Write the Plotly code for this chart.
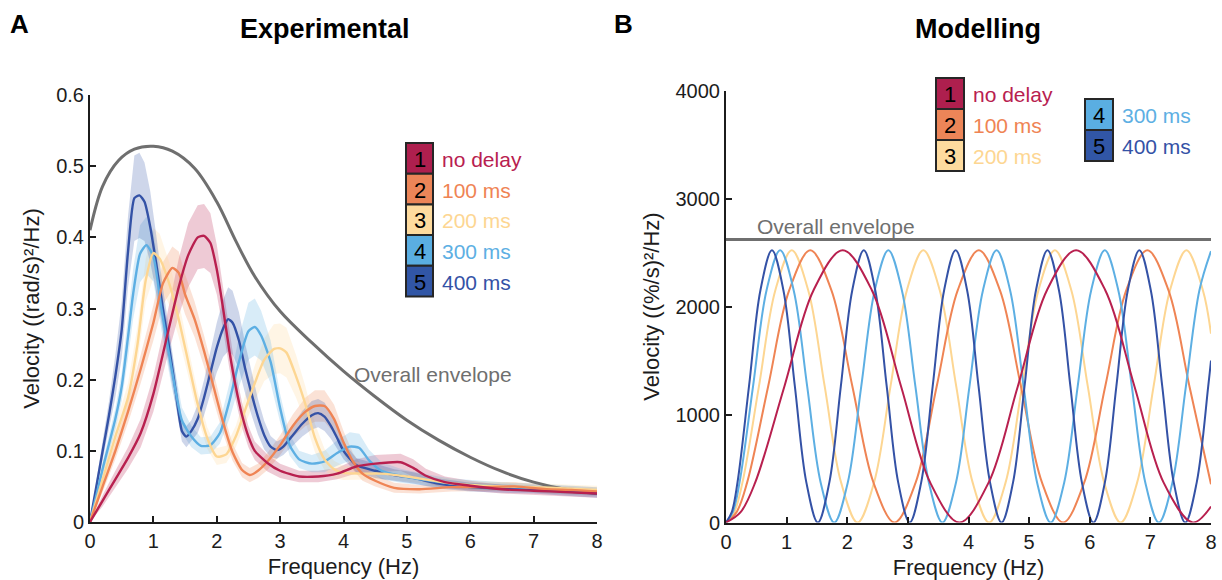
import plotly.graph_objects as go

W, H = 1222, 580

labels = ["no delay", "100 ms", "200 ms", "300 ms", "400 ms"]
line_colors = ["#B8204F", "#EF8454", "#FDD692", "#5DAFE3", "#3452A6"]
box_colors = ["#AE1F4E", "#EC8558", "#FEDB9E", "#5AAEE2", "#3156A6"]
band_rgb = ["184,32,79", "239,132,84", "253,214,146", "93,175,227", "52,82,166"]

# ---------------- Experimental power spectra ((rad/s)^2/Hz) ----------------
exp_f_nodelay = [0, 0.2, 0.4, 0.6, 0.8, 1.0, 1.2, 1.4, 1.55, 1.7, 1.8, 1.9, 2.0, 2.1, 2.2,
                 2.3, 2.4, 2.5, 2.6, 2.8, 3.0, 3.3, 3.6, 3.9, 4.2, 4.5, 4.9, 5.1, 5.3, 5.6,
                 6.0, 6.5, 7.0, 7.5, 8.0]
exp_v_nodelay = [0, 0.03, 0.06, 0.09, 0.125, 0.18, 0.255, 0.33, 0.375, 0.400, 0.402, 0.392,
                 0.355, 0.30, 0.24, 0.19, 0.15, 0.12, 0.10, 0.083, 0.072, 0.064, 0.064, 0.068,
                 0.078, 0.082, 0.084, 0.076, 0.065, 0.056, 0.051, 0.046, 0.044, 0.042, 0.040]
exp_sem_nodelay = [0, 0.008, 0.012, 0.015, 0.02, 0.025, 0.03, 0.04, 0.045, 0.045, 0.045, 0.042,
                   0.035, 0.03, 0.025, 0.02, 0.018, 0.015, 0.013, 0.012, 0.01, 0.008, 0.008,
                   0.008, 0.01, 0.012, 0.012, 0.012, 0.01, 0.008, 0.007, 0.006, 0.006, 0.006,
                   0.006]

exp_f_100 = [0, 0.2, 0.4, 0.6, 0.8, 1.0, 1.15, 1.3, 1.4, 1.5, 1.65, 1.8, 1.95, 2.1, 2.25,
             2.4, 2.52, 2.65, 2.8, 3.0, 3.2, 3.4, 3.55, 3.7, 3.85, 4.0, 4.15, 4.3, 4.5, 4.8,
             5.2, 5.7, 6.2, 6.7, 7.2, 7.6, 8.0]
exp_v_100 = [0, 0.05, 0.10, 0.155, 0.215, 0.28, 0.335, 0.357, 0.35, 0.32, 0.285, 0.24, 0.19,
             0.14, 0.098, 0.073, 0.066, 0.072, 0.085, 0.108, 0.135, 0.155, 0.163, 0.163, 0.145,
             0.112, 0.085, 0.068, 0.058, 0.048, 0.046, 0.049, 0.049, 0.05, 0.046, 0.045, 0.043]
exp_sem_100 = [0, 0.008, 0.012, 0.016, 0.02, 0.025, 0.03, 0.03, 0.03, 0.028, 0.025, 0.022,
               0.02, 0.016, 0.012, 0.01, 0.01, 0.01, 0.012, 0.014, 0.016, 0.02, 0.022, 0.022,
               0.02, 0.016, 0.012, 0.01, 0.008, 0.007, 0.006, 0.006, 0.006, 0.006, 0.006,
               0.006, 0.006]

exp_f_200 = [0, 0.2, 0.4, 0.6, 0.75, 0.88, 1.0, 1.1, 1.25, 1.4, 1.55, 1.7, 1.85, 2.0, 2.15,
             2.3, 2.45, 2.6, 2.75, 2.9, 3.0, 3.1, 3.25, 3.4, 3.55, 3.7, 3.85, 4.0, 4.3, 4.6,
             5.0, 5.5, 6.0, 6.5, 7.0, 7.5, 8.0]
exp_v_200 = [0, 0.06, 0.12, 0.175, 0.25, 0.34, 0.378, 0.37, 0.335, 0.285, 0.225, 0.165, 0.118,
             0.092, 0.095, 0.12, 0.158, 0.195, 0.228, 0.243, 0.244, 0.238, 0.205, 0.165, 0.118,
             0.088, 0.074, 0.069, 0.068, 0.068, 0.064, 0.057, 0.052, 0.05, 0.049, 0.047, 0.045]
exp_sem_200 = [0, 0.01, 0.015, 0.02, 0.025, 0.03, 0.035, 0.035, 0.03, 0.025, 0.02, 0.018,
               0.015, 0.012, 0.012, 0.015, 0.02, 0.025, 0.03, 0.035, 0.035, 0.035, 0.03, 0.025,
               0.02, 0.015, 0.012, 0.01, 0.008, 0.008, 0.007, 0.006, 0.006, 0.006, 0.006,
               0.006, 0.006]

exp_f_300 = [0, 0.2, 0.4, 0.5, 0.6, 0.68, 0.79, 0.89, 1.0, 1.13, 1.29, 1.45, 1.6, 1.75, 1.9,
             2.05, 2.2, 2.35, 2.5, 2.6, 2.7, 2.85, 3.0, 3.15, 3.3, 3.5, 3.7, 3.9, 4.1, 4.25,
             4.4, 4.6, 4.9, 5.3, 5.7, 6.5, 7.2, 8.0]
exp_v_300 = [0, 0.075, 0.145, 0.19, 0.26, 0.32, 0.377, 0.389, 0.373, 0.298, 0.214, 0.143,
             0.12, 0.107, 0.108, 0.125, 0.17, 0.225, 0.268, 0.274, 0.262, 0.225, 0.16, 0.108,
             0.088, 0.082, 0.085, 0.097, 0.106, 0.104, 0.087, 0.072, 0.065, 0.059, 0.054, 0.05,
             0.047, 0.043]
exp_sem_300 = [0, 0.01, 0.015, 0.02, 0.03, 0.035, 0.04, 0.04, 0.035, 0.03, 0.025, 0.018,
               0.015, 0.012, 0.012, 0.015, 0.025, 0.035, 0.04, 0.04, 0.035, 0.03, 0.02, 0.015,
               0.012, 0.012, 0.015, 0.018, 0.02, 0.02, 0.015, 0.012, 0.01, 0.008, 0.007,
               0.006, 0.006, 0.006]

exp_f_400 = [0, 0.1, 0.2, 0.3, 0.4, 0.5, 0.6, 0.7, 0.78, 0.86, 0.95, 1.05, 1.15, 1.25, 1.35,
             1.45, 1.52, 1.6, 1.7, 1.8, 1.9, 2.0, 2.1, 2.18, 2.25, 2.35, 2.45, 2.55, 2.65, 2.75,
             2.85, 2.95, 3.05, 3.2, 3.35, 3.5, 3.6, 3.7, 3.8, 3.9, 4.0, 4.2, 4.5, 4.8, 5.1,
             5.5, 6.0, 6.5, 7.0, 7.5, 8.0]
exp_v_400 = [0, 0.05, 0.10, 0.15, 0.205, 0.27, 0.38, 0.455, 0.459, 0.45, 0.415, 0.36, 0.30,
             0.245, 0.185, 0.128, 0.12, 0.128, 0.145, 0.175, 0.21, 0.245, 0.272, 0.285, 0.28,
             0.255, 0.215, 0.18, 0.148, 0.122, 0.106, 0.101, 0.106, 0.122, 0.138, 0.150, 0.153,
             0.148, 0.135, 0.118, 0.100, 0.080, 0.072, 0.066, 0.062, 0.054, 0.049, 0.047,
             0.046, 0.043, 0.040]
exp_sem_400 = [0, 0.01, 0.015, 0.02, 0.03, 0.04, 0.05, 0.06, 0.06, 0.055, 0.05, 0.04, 0.03,
               0.025, 0.02, 0.015, 0.015, 0.015, 0.02, 0.025, 0.03, 0.035, 0.04, 0.045, 0.045,
               0.04, 0.035, 0.03, 0.025, 0.02, 0.015, 0.012, 0.012, 0.015, 0.018, 0.02, 0.02,
               0.02, 0.018, 0.015, 0.012, 0.01, 0.01, 0.008, 0.008, 0.007, 0.006, 0.006, 0.006,
               0.006, 0.006]

env_f = [0, 0.2, 0.45, 0.7, 1.0, 1.3, 1.65, 2.0, 2.3, 2.6, 3.0, 3.5, 4.0, 4.5, 5.0, 5.5,
         6.0, 6.5, 7.0, 7.5, 8.0]
env_v = [0.410, 0.472, 0.508, 0.524, 0.528, 0.521, 0.497, 0.450, 0.395, 0.345, 0.296, 0.252,
         0.212, 0.176, 0.143, 0.115, 0.091, 0.071, 0.056, 0.046, 0.040]

# ---------------- Model power spectra ((%/s)^2/Hz) ----------------
mod_f_nodelay = [0, 0.241, 0.481, 0.963, 1.444, 1.925, 2.406, 2.888, 3.369, 3.85, 4.331,
                 4.813, 5.294, 5.775, 6.256, 6.738, 7.219, 7.7, 8.0]
mod_v_nodelay = [0, 96, 369, 1260, 2151, 2520, 2151, 1260, 369, 0, 369, 1260, 2151, 2520,
                 2151, 1260, 369, 0, 147]

mod_f_100 = [0, 0.174, 0.348, 0.695, 1.043, 1.39, 1.738, 2.085, 2.433, 2.78, 3.128, 3.475,
             3.823, 4.17, 4.518, 4.865, 5.213, 5.56, 5.908, 6.255, 6.603, 6.95, 7.298, 7.645,
             8.0]
mod_v_100 = [0, 96, 369, 1260, 2151, 2520, 2151, 1260, 369, 0, 369, 1260, 2151, 2520, 2151,
             1260, 369, 0, 369, 1260, 2151, 2520, 2151, 1260, 354]

mod_f_200 = [0, 0.136, 0.271, 0.543, 0.814, 1.085, 1.356, 1.628, 1.899, 2.17, 2.441, 2.713,
             2.984, 3.255, 3.526, 3.798, 4.069, 4.34, 4.611, 4.883, 5.154, 5.425, 5.696,
             5.968, 6.239, 6.51, 6.781, 7.053, 7.324, 7.595, 7.866, 8.0]
mod_v_200 = [0, 96, 369, 1260, 2151, 2520, 2151, 1260, 369, 0, 369, 1260, 2151, 2520, 2151,
             1260, 369, 0, 369, 1260, 2151, 2520, 2151, 1260, 369, 0, 369, 1260, 2151, 2520,
             2151, 1748]

mod_f_300 = [0, 0.112, 0.223, 0.446, 0.669, 0.893, 1.116, 1.339, 1.562, 1.785, 2.008, 2.231,
             2.454, 2.678, 2.901, 3.124, 3.347, 3.57, 3.793, 4.016, 4.239, 4.463, 4.686,
             4.909, 5.132, 5.355, 5.578, 5.801, 6.024, 6.248, 6.471, 6.694, 6.917, 7.14,
             7.363, 7.586, 7.809, 8.0]
mod_v_300 = [0, 96, 369, 1260, 2151, 2520, 2151, 1260, 369, 0, 369, 1260, 2151, 2520, 2151,
             1260, 369, 0, 369, 1260, 2151, 2520, 2151, 1260, 369, 0, 369, 1260, 2151, 2520,
             2151, 1260, 369, 0, 369, 1260, 2151, 2512]

mod_f_400 = [0, 0.095, 0.189, 0.379, 0.568, 0.758, 0.947, 1.136, 1.326, 1.515, 1.704, 1.894,
             2.083, 2.273, 2.462, 2.651, 2.841, 3.03, 3.219, 3.409, 3.598, 3.788, 3.977,
             4.166, 4.356, 4.545, 4.734, 4.924, 5.113, 5.303, 5.492, 5.681, 5.871, 6.06,
             6.249, 6.439, 6.628, 6.818, 7.007, 7.196, 7.386, 7.575, 7.764, 7.954, 8.0]
mod_v_400 = [0, 96, 369, 1260, 2151, 2520, 2151, 1260, 369, 0, 369, 1260, 2151, 2520, 2151,
             1260, 369, 0, 369, 1260, 2151, 2520, 2151, 1260, 369, 0, 369, 1260, 2151, 2520,
             2151, 1260, 369, 0, 369, 1260, 2151, 2520, 2151, 1260, 369, 0, 369, 1260, 1500]

mod_env_f = [0, 8]
mod_env_v = [2620, 2620]

x_ticks = [0, 1, 2, 3, 4, 5, 6, 7, 8]
exp_y_ticks = [0, 0.1, 0.2, 0.3, 0.4, 0.5, 0.6]
mod_y_ticks = [0, 1000, 2000, 3000, 4000]

exp_series = [
    (exp_f_nodelay, exp_v_nodelay, exp_sem_nodelay),
    (exp_f_100, exp_v_100, exp_sem_100),
    (exp_f_200, exp_v_200, exp_sem_200),
    (exp_f_300, exp_v_300, exp_sem_300),
    (exp_f_400, exp_v_400, exp_sem_400),
]
mod_series = [
    (mod_f_nodelay, mod_v_nodelay),
    (mod_f_100, mod_v_100),
    (mod_f_200, mod_v_200),
    (mod_f_300, mod_v_300),
    (mod_f_400, mod_v_400),
]

FONT = "Liberation Sans, Arial, Helvetica, sans-serif"
GRAY = "#6f6f6f"
INK = "#1c1c1c"


def px(x):
    return x / W


def py(y):
    return 1 - y / H


fig = go.Figure()

# shaded error bands (drawn first, under every line)
for i, (f, v, s) in enumerate(exp_series):
    upper = [a + b for a, b in zip(v, s)]
    lower = [max(a - b, 0) for a, b in zip(v, s)]
    fig.add_trace(go.Scatter(
        x=f + f[::-1], y=upper + lower[::-1], fill="toself",
        fillcolor=f"rgba({band_rgb[i]},0.24)", line=dict(width=0),
        hoverinfo="skip", showlegend=False, xaxis="x", yaxis="y"))

# overall envelope, experimental panel
fig.add_trace(go.Scatter(x=env_f, y=env_v, mode="lines",
                         line=dict(color=GRAY, width=3, shape="spline", smoothing=1),
                         showlegend=False, xaxis="x", yaxis="y"))

# mean spectra
for i in [4, 3, 2, 1, 0]:
    f, v, s = exp_series[i]
    fig.add_trace(go.Scatter(x=f, y=v, mode="lines", name=labels[i],
                             line=dict(color=line_colors[i], width=2.4, shape="spline",
                                       smoothing=0.6),
                             showlegend=False, xaxis="x", yaxis="y"))

# model panel
fig.add_trace(go.Scatter(x=mod_env_f, y=mod_env_v, mode="lines",
                         line=dict(color=GRAY, width=3),
                         showlegend=False, xaxis="x2", yaxis="y2"))
for i in [2, 1, 3, 4, 0]:
    f, v = mod_series[i]
    fig.add_trace(go.Scatter(x=f, y=v, mode="lines", name=labels[i],
                             line=dict(color=line_colors[i], width=2, shape="spline",
                                       smoothing=1),
                             showlegend=False, xaxis="x2", yaxis="y2"))

axis_common = dict(showline=True, linewidth=2, linecolor=INK, ticks="inside",
                   ticklen=6, tickwidth=1.5, tickcolor=INK, showgrid=False,
                   zeroline=False, automargin=False,
                   tickfont=dict(family=FONT, size=20, color=INK))

fig.update_layout(
    width=W, height=H, autosize=False,
    margin=dict(l=0, r=0, t=0, b=0),
    paper_bgcolor="white", plot_bgcolor="white",
    font=dict(family=FONT, color=INK),
    xaxis=dict(domain=[px(90), px(597)], range=[0, 8], tickvals=x_ticks,
               title=dict(text="Frequency (Hz)", font=dict(size=22, color=INK), standoff=8),
               anchor="y", **axis_common),
    yaxis=dict(domain=[py(522), py(95)], range=[0, 0.6], tickvals=exp_y_ticks,
               title=dict(text="Velocity ((rad/s)²/Hz)", font=dict(size=22, color=INK),
                          standoff=10),
               anchor="x", **axis_common),
    xaxis2=dict(domain=[px(726), px(1211)], range=[0, 8], tickvals=x_ticks,
                title=dict(text="Frequency (Hz)", font=dict(size=22, color=INK), standoff=8),
                anchor="y2", **axis_common),
    yaxis2=dict(domain=[py(522.5), py(90.5)], range=[0, 4000], tickvals=mod_y_ticks,
                tickformat="d",
                title=dict(text="Velocity ((%/s)²/Hz)", font=dict(size=22, color=INK),
                           standoff=10),
                anchor="x2", **axis_common),
)

annotations = []
shapes = []


def text(x, y, s, size, color, bold=False, xanchor="center"):
    annotations.append(dict(
        x=px(x), y=py(y), xref="paper", yref="paper", text=f"<b>{s}</b>" if bold else s,
        showarrow=False, xanchor=xanchor, yanchor="middle",
        font=dict(family=FONT, size=size, color=color)))


# panel letters and titles
text(19, 24, "A", 26, "black", bold=True)
text(623, 24, "B", 26, "black", bold=True)
text(325, 29, "Experimental", 27, "black", bold=True)
text(978, 29, "Modelling", 27, "black", bold=True)

# envelope labels
text(352, 374, "Overall envelope", 21, GRAY, xanchor="left")
text(755, 226, "Overall envelope", 21, GRAY, xanchor="left")


def legend_entry(i, x0, y0, w, h):
    shapes.append(dict(type="rect", xref="paper", yref="paper",
                       x0=px(x0), x1=px(x0 + w), y0=py(y0 + h), y1=py(y0),
                       fillcolor=box_colors[i], line=dict(color="#262626", width=2)))
    text(x0 + w / 2, y0 + h / 2 + 1, str(i + 1), 22, "black")
    text(x0 + w + 7, y0 + h / 2 + 1, labels[i], 21, line_colors[i], xanchor="left")


# legend, experimental panel
for i in range(5):
    legend_entry(i, 406, 143 + 30.7 * i, 27, 30.7)

# legend, model panel (two columns)
for i in range(3):
    legend_entry(i, 936, 78 + 31 * i, 28, 31)
for j, i in enumerate([3, 4]):
    legend_entry(i, 1085, 99 + 31 * j, 28, 31)

fig.update_layout(annotations=annotations, shapes=shapes)

fig.write_html("out.html")
